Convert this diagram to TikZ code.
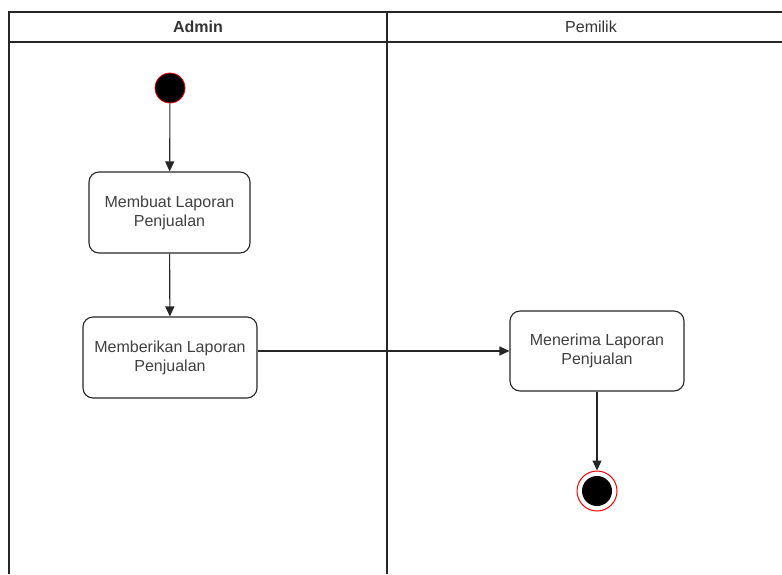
\documentclass[tikz,border=0pt]{standalone}
\usepackage{fontspec}
\setmainfont{Liberation Sans}
\usetikzlibrary{arrows.meta}

\begin{document}
\begin{tikzpicture}[x=1pt,y=-1pt,
    lane/.style={line width=1.4pt,black!85},
    act/.style={draw=black!85,line width=1.1pt,rounded corners=10pt,align=center,
        inner sep=0pt,font=\fontsize{16}{19}\selectfont,text=black!75},
    flow/.style={line width=1.1pt,black!85,-{Triangle[length=10pt,width=9pt]}}]
            \useasboundingbox (0,0) rectangle (782,574);
            % swimlanes
            \draw[lane] (782,12) -- (9,12) -- (9,574);
            \draw[lane] (9,42) -- (782,42);
            \draw[lane] (387,12) -- (387,574);
            \node[font=\bfseries\fontsize{16}{19}\selectfont,text=black!80] (admin) at (198,27) {Admin};
            \node[font=\fontsize{16}{19}\selectfont,text=black!80] (pemilik) at (591,27) {Pemilik};
            % nodes
            \node[circle,fill=black,draw=red,line width=0.8pt,minimum size=30pt,inner sep=0pt] (start) at (170,88) {};
            \node[act,minimum width=161pt,minimum height=81pt] (buat) at (169.5,212.5) {Membuat Laporan\\Penjualan};
            \node[act,minimum width=174pt,minimum height=81pt] (beri) at (170,357.5) {Memberikan Laporan\\Penjualan};
            \node[act,minimum width=174pt,minimum height=80pt] (terima) at (597,351) {Menerima Laporan\\Penjualan};
            \node[circle,draw=red,line width=1pt,fill=white,minimum size=40pt,inner sep=0pt] (end) at (597,491) {};
            \fill (end.center) circle[radius=15pt];
            % arrows
            \draw[flow] (start) -- (buat);
            \draw[flow] (buat) -- (beri);
            \draw[flow] (beri.east |- terima.west) -- (terima.west);
            \draw[flow] (terima) -- (end);
        \end{tikzpicture}
\end{document}
